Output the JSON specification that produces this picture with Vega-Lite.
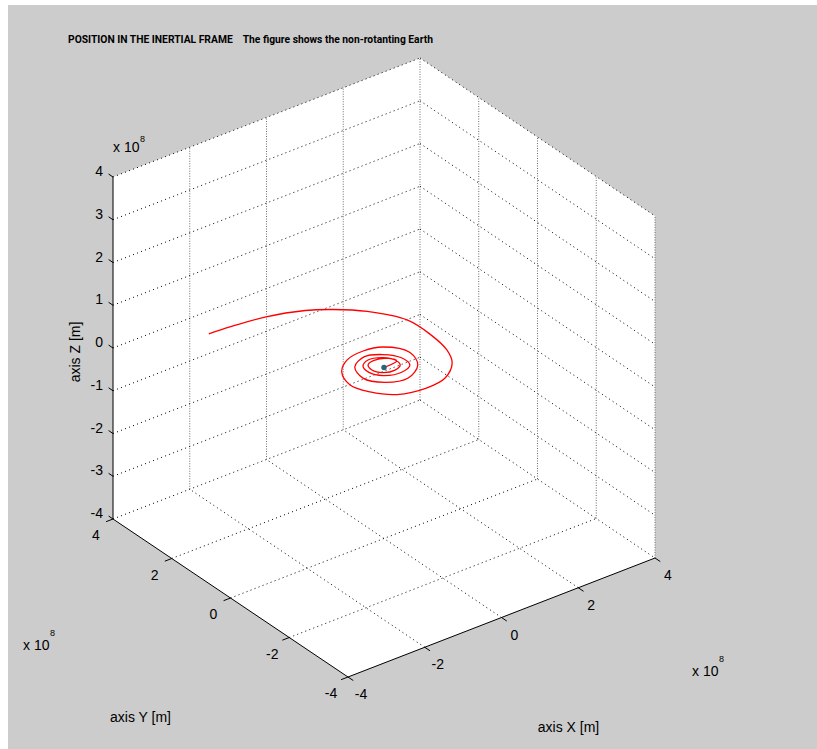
{
  "$schema": "https://vega.github.io/schema/vega-lite/v6.json",
  "width": 809,
  "height": 744,
  "autosize": {"type": "none"},
  "padding": {"left": 8, "top": 5, "right": 0, "bottom": 0},
  "background": "#ffffff",
  "view": {"fill": "#cccccc", "stroke": null},
  "title": {
    "text": "POSITION IN THE INERTIAL FRAME\u00a0\u00a0\u00a0 The figure shows the non-rotanting Earth",
    "anchor": "start",
    "frame": "group",
    "orient": "top",
    "offset": 0,
    "dx": 60,
    "dy": 48,
    "baseline": "alphabetic",
    "font": "Roboto",
    "fontSize": 10.3,
    "fontWeight": "bold",
    "color": "#000000"
  },
  "datasets": {
    "faces": [
      {"xt": -4, "yt": 4, "zt": 4, "xb": -4, "yb": 4, "zb": -4},
      {"xt": 2.124, "yt": 4, "zt": 4, "xb": -4, "yb": -4, "zb": -4},
      {"xt": 4, "yt": 4, "zt": 4, "xb": -2.124, "yb": -4, "zb": -4},
      {"xt": 4, "yt": -4, "zt": 4, "xb": 4, "yb": -4, "zb": -4}
    ],
    "grid": [
      {"xa": -2, "ya": 4, "za": -4, "xb": -2, "yb": 4, "zb": 4},
      {"xa": 0, "ya": 4, "za": -4, "xb": 0, "yb": 4, "zb": 4},
      {"xa": 2, "ya": 4, "za": -4, "xb": 2, "yb": 4, "zb": 4},
      {"xa": 4, "ya": 4, "za": -4, "xb": 4, "yb": 4, "zb": 4},
      {"xa": -4, "ya": 4, "za": -4, "xb": 4, "yb": 4, "zb": -4},
      {"xa": -4, "ya": 4, "za": -3, "xb": 4, "yb": 4, "zb": -3},
      {"xa": -4, "ya": 4, "za": -2, "xb": 4, "yb": 4, "zb": -2},
      {"xa": -4, "ya": 4, "za": -1, "xb": 4, "yb": 4, "zb": -1},
      {"xa": -4, "ya": 4, "za": 0, "xb": 4, "yb": 4, "zb": 0},
      {"xa": -4, "ya": 4, "za": 1, "xb": 4, "yb": 4, "zb": 1},
      {"xa": -4, "ya": 4, "za": 2, "xb": 4, "yb": 4, "zb": 2},
      {"xa": -4, "ya": 4, "za": 3, "xb": 4, "yb": 4, "zb": 3},
      {"xa": -4, "ya": 4, "za": 4, "xb": 4, "yb": 4, "zb": 4},
      {"xa": 4, "ya": 2, "za": -4, "xb": 4, "yb": 2, "zb": 4},
      {"xa": 4, "ya": 0, "za": -4, "xb": 4, "yb": 0, "zb": 4},
      {"xa": 4, "ya": -2, "za": -4, "xb": 4, "yb": -2, "zb": 4},
      {"xa": 4, "ya": -4, "za": -4, "xb": 4, "yb": -4, "zb": 4},
      {"xa": 4, "ya": 4, "za": -4, "xb": 4, "yb": -4, "zb": -4},
      {"xa": 4, "ya": 4, "za": -3, "xb": 4, "yb": -4, "zb": -3},
      {"xa": 4, "ya": 4, "za": -2, "xb": 4, "yb": -4, "zb": -2},
      {"xa": 4, "ya": 4, "za": -1, "xb": 4, "yb": -4, "zb": -1},
      {"xa": 4, "ya": 4, "za": 0, "xb": 4, "yb": -4, "zb": 0},
      {"xa": 4, "ya": 4, "za": 1, "xb": 4, "yb": -4, "zb": 1},
      {"xa": 4, "ya": 4, "za": 2, "xb": 4, "yb": -4, "zb": 2},
      {"xa": 4, "ya": 4, "za": 3, "xb": 4, "yb": -4, "zb": 3},
      {"xa": 4, "ya": 4, "za": 4, "xb": 4, "yb": -4, "zb": 4},
      {"xa": -2, "ya": -4, "za": -4, "xb": -2, "yb": 4, "zb": -4},
      {"xa": 0, "ya": -4, "za": -4, "xb": 0, "yb": 4, "zb": -4},
      {"xa": 2, "ya": -4, "za": -4, "xb": 2, "yb": 4, "zb": -4},
      {"xa": -4, "ya": -2, "za": -4, "xb": 4, "yb": -2, "zb": -4},
      {"xa": -4, "ya": 0, "za": -4, "xb": 4, "yb": 0, "zb": -4},
      {"xa": -4, "ya": 2, "za": -4, "xb": 4, "yb": 2, "zb": -4}
    ],
    "axes": [
      {"xa": -4, "ya": 4, "za": -4, "xb": -4, "yb": 4, "zb": 4},
      {"xa": -4, "ya": 4, "za": -4, "xb": -4, "yb": -4, "zb": -4},
      {"xa": -4, "ya": -4, "za": -4, "xb": 4, "yb": -4, "zb": -4},
      {"xa": -4, "ya": 4, "za": -4, "xb": -4, "yb": 4.15, "zb": -4},
      {"xa": -4, "ya": 4, "za": -3, "xb": -4, "yb": 4.15, "zb": -3},
      {"xa": -4, "ya": 4, "za": -2, "xb": -4, "yb": 4.15, "zb": -2},
      {"xa": -4, "ya": 4, "za": -1, "xb": -4, "yb": 4.15, "zb": -1},
      {"xa": -4, "ya": 4, "za": 0, "xb": -4, "yb": 4.15, "zb": 0},
      {"xa": -4, "ya": 4, "za": 1, "xb": -4, "yb": 4.15, "zb": 1},
      {"xa": -4, "ya": 4, "za": 2, "xb": -4, "yb": 4.15, "zb": 2},
      {"xa": -4, "ya": 4, "za": 3, "xb": -4, "yb": 4.15, "zb": 3},
      {"xa": -4, "ya": 4, "za": 4, "xb": -4, "yb": 4.15, "zb": 4},
      {"xa": -4, "ya": 4, "za": -4, "xb": -4.18, "yb": 4, "zb": -4},
      {"xa": -4, "ya": 2, "za": -4, "xb": -4.18, "yb": 2, "zb": -4},
      {"xa": -4, "ya": 0, "za": -4, "xb": -4.18, "yb": 0, "zb": -4},
      {"xa": -4, "ya": -2, "za": -4, "xb": -4.18, "yb": -2, "zb": -4},
      {"xa": -4, "ya": -4, "za": -4, "xb": -4.18, "yb": -4, "zb": -4},
      {"xa": -4, "ya": -4, "za": -4, "xb": -4, "yb": -4.18, "zb": -4},
      {"xa": -2, "ya": -4, "za": -4, "xb": -2, "yb": -4.18, "zb": -4},
      {"xa": 0, "ya": -4, "za": -4, "xb": 0, "yb": -4.18, "zb": -4},
      {"xa": 2, "ya": -4, "za": -4, "xb": 2, "yb": -4.18, "zb": -4},
      {"xa": 4, "ya": -4, "za": -4, "xb": 4, "yb": -4.18, "zb": -4}
    ],
    "zlab": [
      {"x": -4, "y": 4, "z": 4, "lab": "4"},
      {"x": -4, "y": 4, "z": 3, "lab": "3"},
      {"x": -4, "y": 4, "z": 2, "lab": "2"},
      {"x": -4, "y": 4, "z": 1, "lab": "1"},
      {"x": -4, "y": 4, "z": 0, "lab": "0"},
      {"x": -4, "y": 4, "z": -1, "lab": "-1"},
      {"x": -4, "y": 4, "z": -2, "lab": "-2"},
      {"x": -4, "y": 4, "z": -3, "lab": "-3"},
      {"x": -4, "y": 4, "z": -4, "lab": "-4"}
    ],
    "ylab": [
      {"x": -4, "y": 4, "z": -4, "lab": "4"},
      {"x": -4, "y": 2, "z": -4, "lab": "2"},
      {"x": -4, "y": 0, "z": -4, "lab": "0"},
      {"x": -4, "y": -2, "z": -4, "lab": "-2"},
      {"x": -4, "y": -4, "z": -4, "lab": "-4"}
    ],
    "xlab": [
      {"x": -4, "y": -4, "z": -4, "lab": "-4"},
      {"x": -2, "y": -4, "z": -4, "lab": "-2"},
      {"x": 0, "y": -4, "z": -4, "lab": "0"},
      {"x": 2, "y": -4, "z": -4, "lab": "2"},
      {"x": 4, "y": -4, "z": -4, "lab": "4"}
    ],
    "orbit": [
      {"t": 0, "x": 0, "y": 0, "z": 0},
      {"t": 1, "x": 0.37, "y": 0.05, "z": 0},
      {"t": 2, "x": 0.29, "y": 0.24, "z": 0},
      {"t": 3, "x": 0.01, "y": 0.35, "z": 0},
      {"t": 4, "x": -0.2, "y": 0.28, "z": 0},
      {"t": 5, "x": -0.26, "y": 0.07, "z": 0},
      {"t": 6, "x": -0.14, "y": -0.15, "z": 0},
      {"t": 7, "x": 0.12, "y": -0.22, "z": 0},
      {"t": 8, "x": 0.33, "y": -0.12, "z": 0},
      {"t": 9, "x": 0.37, "y": 0.1, "z": 0},
      {"t": 10, "x": 0.23, "y": 0.33, "z": 0},
      {"t": 11, "x": -0.08, "y": 0.44, "z": 0},
      {"t": 12, "x": -0.31, "y": 0.31, "z": 0},
      {"t": 13, "x": -0.37, "y": 0.03, "z": 0},
      {"t": 14, "x": -0.21, "y": -0.25, "z": 0},
      {"t": 15, "x": 0.19, "y": -0.37, "z": 0},
      {"t": 16, "x": 0.49, "y": -0.24, "z": 0},
      {"t": 17, "x": 0.53, "y": 0.08, "z": 0},
      {"t": 18, "x": 0.3, "y": 0.43, "z": 0},
      {"t": 19, "x": -0.07, "y": 0.59, "z": 0},
      {"t": 20, "x": -0.47, "y": 0.38, "z": 0},
      {"t": 21, "x": -0.61, "y": -0.08, "z": 0},
      {"t": 22, "x": -0.35, "y": -0.49, "z": 0},
      {"t": 23, "x": 0.14, "y": -0.64, "z": 0},
      {"t": 24, "x": 0.62, "y": -0.34, "z": 0},
      {"t": 25, "x": 0.8, "y": 0.16, "z": 0},
      {"t": 26, "x": 0.49, "y": 0.67, "z": 0},
      {"t": 27, "x": 0.06, "y": 0.79, "z": 0},
      {"t": 28, "x": -0.43, "y": 0.7, "z": 0},
      {"t": 29, "x": -0.81, "y": 0.38, "z": 0},
      {"t": 30, "x": -0.99, "y": -0.14, "z": 0},
      {"t": 31, "x": -0.83, "y": -0.61, "z": 0},
      {"t": 32, "x": -0.45, "y": -1.03, "z": 0},
      {"t": 33, "x": 0.21, "y": -1.19, "z": 0},
      {"t": 34, "x": 0.75, "y": -1.1, "z": 0},
      {"t": 35, "x": 1.24, "y": -0.7, "z": 0},
      {"t": 36, "x": 1.47, "y": -0.22, "z": 0},
      {"t": 37, "x": 1.58, "y": 0.5, "z": 0},
      {"t": 38, "x": 1.55, "y": 1.24, "z": 0},
      {"t": 39, "x": 1.1, "y": 2.01, "z": 0},
      {"t": 40, "x": 0.58, "y": 2.5, "z": 0},
      {"t": 41, "x": 0.1, "y": 2.81, "z": 0},
      {"t": 42, "x": -0.73, "y": 3.1, "z": 0},
      {"t": 43, "x": -1.55, "y": 3.22, "z": 0},
      {"t": 44, "x": -2.07, "y": 3.26, "z": 0}
    ],
    "earth": [{"x": 0, "y": 0, "z": 0}],
    "zcorner": [{"x": -4, "y": 4, "z": 4}],
    "ycorner": [{"x": -4, "y": 4, "z": -4}],
    "xcorner": [{"x": 4, "y": -4, "z": -4}],
    "zmid": [{"x": -4, "y": 4, "z": 0}],
    "ymid": [{"x": -4, "y": 0, "z": -4}],
    "xmid": [{"x": 0, "y": -4, "z": -4}]
  },
  "encoding": {
    "x": {"field": "u", "type": "quantitative", "axis": null, "scale": {"domain": [-376, 433], "nice": false, "zero": false}},
    "y": {"field": "v", "type": "quantitative", "axis": null, "scale": {"domain": [-381.5, 362.5], "nice": false, "zero": false}}
  },
  "layer": [
    {
      "data": {"name": "faces"},
      "transform": [
        {"calculate": "38.375*datum.xt - 29.375*datum.yt", "as": "u"},
        {"calculate": "14.875*datum.xt + 19.75*datum.yt + 42.75*datum.zt", "as": "v"},
        {"calculate": "14.875*datum.xb + 19.75*datum.yb + 42.75*datum.zb", "as": "v2"}
      ],
      "mark": {"type": "area", "color": "#ffffff", "opacity": 1},
      "encoding": {"y2": {"field": "v2"}}
    },
    {
      "data": {"name": "grid"},
      "transform": [
        {"filter": "datum.xa == datum.xb && datum.ya == datum.yb"},
        {"calculate": "38.375*datum.xa - 29.375*datum.ya", "as": "u"},
        {"calculate": "14.875*datum.xa + 19.75*datum.ya + 42.75*datum.za", "as": "v"},
        {"calculate": "38.375*datum.xb - 29.375*datum.yb", "as": "u2"},
        {"calculate": "14.875*datum.xb + 19.75*datum.yb + 42.75*datum.zb", "as": "v2"}
      ],
      "mark": {"type": "rule", "color": "#6e6e6e", "strokeWidth": 1, "strokeDash": [1, 1.5]},
      "encoding": {"x2": {"field": "u2"}, "y2": {"field": "v2"}}
    },
    {
      "data": {"name": "grid"},
      "transform": [
        {"filter": "!(datum.xa == datum.xb && datum.ya == datum.yb)"},
        {"calculate": "38.375*datum.xa - 29.375*datum.ya", "as": "u"},
        {"calculate": "14.875*datum.xa + 19.75*datum.ya + 42.75*datum.za", "as": "v"},
        {"calculate": "38.375*datum.xb - 29.375*datum.yb", "as": "u2"},
        {"calculate": "14.875*datum.xb + 19.75*datum.yb + 42.75*datum.zb", "as": "v2"}
      ],
      "mark": {"type": "rule", "color": "#000000", "strokeWidth": 1, "strokeDash": [1, 3.3]},
      "encoding": {"x2": {"field": "u2"}, "y2": {"field": "v2"}}
    },
    {
      "data": {"name": "axes"},
      "transform": [
        {"calculate": "38.375*datum.xa - 29.375*datum.ya", "as": "u"},
        {"calculate": "14.875*datum.xa + 19.75*datum.ya + 42.75*datum.za", "as": "v"},
        {"calculate": "38.375*datum.xb - 29.375*datum.yb", "as": "u2"},
        {"calculate": "14.875*datum.xb + 19.75*datum.yb + 42.75*datum.zb", "as": "v2"}
      ],
      "mark": {"type": "rule", "color": "#000000", "strokeWidth": 1},
      "encoding": {"x2": {"field": "u2"}, "y2": {"field": "v2"}}
    },
    {
      "data": {"name": "orbit"},
      "transform": [
        {"calculate": "38.375*datum.x - 29.375*datum.y", "as": "u"},
        {"calculate": "14.875*datum.x + 19.75*datum.y + 42.75*datum.z", "as": "v"}
      ],
      "mark": {"type": "line", "color": "#ff0000", "strokeWidth": 1.3, "interpolate": "catmull-rom"},
      "encoding": {"order": {"field": "t", "type": "quantitative"}}
    },
    {
      "data": {"name": "earth"},
      "transform": [
        {"calculate": "38.375*datum.x - 29.375*datum.y", "as": "u"},
        {"calculate": "14.875*datum.x + 19.75*datum.y + 42.75*datum.z", "as": "v"}
      ],
      "mark": {"type": "point", "filled": true, "color": "#2a6478", "size": 30, "opacity": 1}
    },
    {
      "data": {"name": "zlab"},
      "transform": [
        {"calculate": "38.375*datum.x - 29.375*datum.y", "as": "u"},
        {"calculate": "14.875*datum.x + 19.75*datum.y + 42.75*datum.z", "as": "v"}
      ],
      "mark": {"type": "text", "align": "right", "baseline": "middle", "dx": -10, "dy": -5, "font": "Liberation Sans", "fontSize": 14, "color": "#000000"},
      "encoding": {"text": {"field": "lab"}}
    },
    {
      "data": {"name": "ylab"},
      "transform": [
        {"calculate": "38.375*datum.x - 29.375*datum.y", "as": "u"},
        {"calculate": "14.875*datum.x + 19.75*datum.y + 42.75*datum.z", "as": "v"}
      ],
      "mark": {"type": "text", "align": "center", "baseline": "middle", "dx": -17, "dy": 17, "font": "Liberation Sans", "fontSize": 14, "color": "#000000"},
      "encoding": {"text": {"field": "lab"}}
    },
    {
      "data": {"name": "xlab"},
      "transform": [
        {"calculate": "38.375*datum.x - 29.375*datum.y", "as": "u"},
        {"calculate": "14.875*datum.x + 19.75*datum.y + 42.75*datum.z", "as": "v"}
      ],
      "mark": {"type": "text", "align": "center", "baseline": "middle", "dx": 13, "dy": 18, "font": "Liberation Sans", "fontSize": 14, "color": "#000000"},
      "encoding": {"text": {"field": "lab"}}
    },
    {
      "data": {"name": "zcorner"},
      "transform": [
        {"calculate": "38.375*datum.x - 29.375*datum.y", "as": "u"},
        {"calculate": "14.875*datum.x + 19.75*datum.y + 42.75*datum.z", "as": "v"}
      ],
      "mark": {"type": "text", "text": "x 10", "align": "left", "baseline": "middle", "dx": 0, "dy": -29, "font": "Liberation Sans", "fontSize": 14, "color": "#000000"}
    },
    {
      "data": {"name": "zcorner"},
      "transform": [
        {"calculate": "38.375*datum.x - 29.375*datum.y", "as": "u"},
        {"calculate": "14.875*datum.x + 19.75*datum.y + 42.75*datum.z", "as": "v"}
      ],
      "mark": {"type": "text", "text": "8", "align": "left", "baseline": "middle", "dx": 27, "dy": -38, "font": "Liberation Sans", "fontSize": 9, "color": "#000000"}
    },
    {
      "data": {"name": "ycorner"},
      "transform": [
        {"calculate": "38.375*datum.x - 29.375*datum.y", "as": "u"},
        {"calculate": "14.875*datum.x + 19.75*datum.y + 42.75*datum.z", "as": "v"}
      ],
      "mark": {"type": "text", "text": "x 10", "align": "left", "baseline": "middle", "dx": -90, "dy": 127, "font": "Liberation Sans", "fontSize": 14, "color": "#000000"}
    },
    {
      "data": {"name": "ycorner"},
      "transform": [
        {"calculate": "38.375*datum.x - 29.375*datum.y", "as": "u"},
        {"calculate": "14.875*datum.x + 19.75*datum.y + 42.75*datum.z", "as": "v"}
      ],
      "mark": {"type": "text", "text": "8", "align": "left", "baseline": "middle", "dx": -63, "dy": 114, "font": "Liberation Sans", "fontSize": 9, "color": "#000000"}
    },
    {
      "data": {"name": "xcorner"},
      "transform": [
        {"calculate": "38.375*datum.x - 29.375*datum.y", "as": "u"},
        {"calculate": "14.875*datum.x + 19.75*datum.y + 42.75*datum.z", "as": "v"}
      ],
      "mark": {"type": "text", "text": "x 10", "align": "left", "baseline": "middle", "dx": 37, "dy": 114, "font": "Liberation Sans", "fontSize": 14, "color": "#000000"}
    },
    {
      "data": {"name": "xcorner"},
      "transform": [
        {"calculate": "38.375*datum.x - 29.375*datum.y", "as": "u"},
        {"calculate": "14.875*datum.x + 19.75*datum.y + 42.75*datum.z", "as": "v"}
      ],
      "mark": {"type": "text", "text": "8", "align": "left", "baseline": "middle", "dx": 64, "dy": 101, "font": "Liberation Sans", "fontSize": 9, "color": "#000000"}
    },
    {
      "data": {"name": "zmid"},
      "transform": [
        {"calculate": "38.375*datum.x - 29.375*datum.y", "as": "u"},
        {"calculate": "14.875*datum.x + 19.75*datum.y + 42.75*datum.z", "as": "v"}
      ],
      "mark": {"type": "text", "text": "axis Z [m]", "angle": 270, "align": "center", "baseline": "middle", "dx": -4, "dy": -37, "font": "Liberation Sans", "fontSize": 14, "color": "#000000"}
    },
    {
      "data": {"name": "ymid"},
      "transform": [
        {"calculate": "38.375*datum.x - 29.375*datum.y", "as": "u"},
        {"calculate": "14.875*datum.x + 19.75*datum.y + 42.75*datum.z", "as": "v"}
      ],
      "mark": {"type": "text", "text": "axis Y [m]", "align": "center", "baseline": "middle", "dx": -90, "dy": 120, "font": "Liberation Sans", "fontSize": 14, "color": "#000000"}
    },
    {
      "data": {"name": "xmid"},
      "transform": [
        {"calculate": "38.375*datum.x - 29.375*datum.y", "as": "u"},
        {"calculate": "14.875*datum.x + 19.75*datum.y + 42.75*datum.z", "as": "v"}
      ],
      "mark": {"type": "text", "text": "axis X [m]", "align": "center", "baseline": "middle", "dx": 67, "dy": 110, "font": "Liberation Sans", "fontSize": 14, "color": "#000000"}
    }
  ]
}
